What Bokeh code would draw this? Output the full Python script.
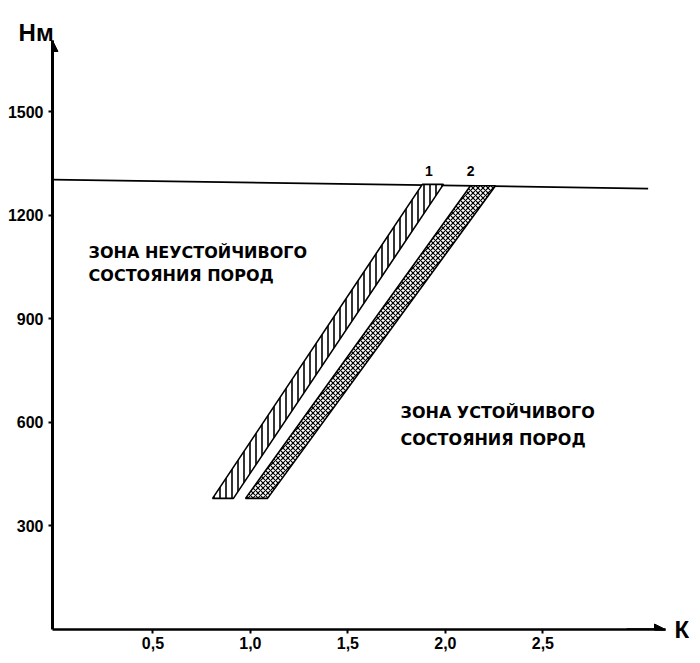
from bokeh.plotting import figure
from bokeh.models import FixedTicker, Arrow, NormalHead, Label, Range1d
from bokeh.embed import file_html
from bokeh.resources import INLINE

# ---- data ----
X_TICKS = [0.5, 1.0, 1.5, 2.0, 2.5]
X_TICK_LABELS = ["0,5", "1,0", "1,5", "2,0", "2,5"]
Y_TICKS = [300, 600, 900, 1200, 1500]

# limit depth line (horizontal, slightly falling)
LINE_X = [-0.015, 3.04]
LINE_Y = [1304, 1278]

# band 1 (hatched)  : bottom-left, bottom-right, top-right, top-left
BAND1_X = [0.806, 0.913, 1.990, 1.882]
BAND1_Y = [380, 380, 1290, 1290]
# band 2 (cross-hatched)
BAND2_X = [0.975, 1.088, 2.257, 2.129]
BAND2_Y = [380, 380, 1286, 1286]

BAND_NAMES = ["1", "2"]
BAND_NAME_X = [1.915, 2.129]
BAND_NAME_Y = [1328, 1328]

ZONE1 = ["ЗОНА НЕУСТОЙЧИВОГО", "СОСТОЯНИЯ ПОРОД"]
ZONE1_X = 0.170
ZONE1_Y = [1093, 1026]
ZONE2 = ["ЗОНА УСТОЙЧИВОГО", "СОСТОЯНИЯ ПОРОД"]
ZONE2_X = 1.77
ZONE2_Y = [628, 550]

X_START, X_END = -0.015, 3.129
Y_START, Y_END = 0, 1707

NARROW = "'Liberation Sans Narrow', 'Liberation Sans', sans-serif"
WIDE = "'DejaVu Sans', sans-serif"

p = figure(width=692, height=655, output_backend="svg", toolbar_location=None,
           x_range=Range1d(X_START, X_END), y_range=Range1d(Y_START, Y_END),
           min_border_left=52, min_border_right=27, min_border_top=40,
           min_border_bottom=26)
p.outline_line_color = None
p.grid.visible = False
p.background_fill_color = "white"
p.border_fill_color = "white"

# axes
xa = p.xaxis[0]
xa.ticker = FixedTicker(ticks=X_TICKS)
xa.major_label_overrides = {t: l for t, l in zip(X_TICKS, X_TICK_LABELS)}
xa.axis_line_width = 2.5
xa.axis_line_color = "black"
xa.major_tick_in = 0
xa.major_tick_out = 4
xa.major_tick_line_width = 2
xa.minor_tick_out = 0
xa.minor_tick_in = 0
xa.major_label_standoff = 3
xa.axis_label_standoff = 0
xa.major_label_text_font = NARROW
xa.major_label_text_font_style = "bold"
xa.major_label_text_font_size = "16px"
xa.major_label_text_color = "black"

ya = p.yaxis[0]
ya.ticker = FixedTicker(ticks=Y_TICKS)
ya.axis_line_width = 3
ya.axis_line_color = "black"
ya.major_tick_in = 0
ya.major_tick_out = 4
ya.major_tick_line_width = 2
ya.minor_tick_out = 0
ya.minor_tick_in = 0
ya.major_label_standoff = 5
ya.axis_label_standoff = 0
ya.major_label_text_font = NARROW
ya.major_label_text_font_style = "bold"
ya.major_label_text_font_size = "16px"
ya.major_label_text_color = "black"

# arrows at axis ends
p.add_layout(Arrow(end=NormalHead(size=11, fill_color="black", line_color="black"),
                   x_start=X_START, y_start=Y_END - 60, x_end=X_START, y_end=Y_END,
                   line_width=3, line_color="black"))
p.add_layout(Arrow(end=NormalHead(size=11, fill_color="black", line_color="black"),
                   x_start=X_END - 0.2, y_start=0, x_end=X_END, y_end=0,
                   line_width=2.5, line_color="black"))

# horizontal line
p.line(LINE_X, LINE_Y, line_color="black", line_width=1.8)

# bands
p.patch(BAND1_X, BAND1_Y, fill_color="white", line_color="black", line_width=1.6,
        hatch_pattern="|", hatch_color="black", hatch_scale=6, hatch_weight=1.6)
p.patch(BAND2_X, BAND2_Y, fill_color="white", line_color="black", line_width=1.6,
        hatch_pattern="x", hatch_color="black", hatch_scale=5, hatch_weight=1.2)

# band names
for name, bx, by in zip(BAND_NAMES, BAND_NAME_X, BAND_NAME_Y):
    p.add_layout(Label(x=bx, y=by, text=name, text_font=NARROW, text_font_style="bold",
                       text_font_size="14px", text_align="center", text_baseline="middle",
                       text_color="black"))

# zone texts
for txt, ty in zip(ZONE1, ZONE1_Y):
    p.add_layout(Label(x=ZONE1_X, y=ty, text=txt, text_font=WIDE, text_font_style="bold",
                       text_font_size="16px", text_align="left", text_baseline="middle",
                       text_color="black"))
for txt, ty in zip(ZONE2, ZONE2_Y):
    p.add_layout(Label(x=ZONE2_X, y=ty, text=txt, text_font=WIDE, text_font_style="bold",
                       text_font_size="16px", text_align="left", text_baseline="middle",
                       text_color="black"))

# axis names (placed in side panels so they are not clipped by the frame)
p.add_layout(Label(x=-0.189, y=Y_END + 23, text="Нм", text_font=NARROW, text_font_style="bold",
                   text_font_size="24px", text_align="left", text_baseline="alphabetic",
                   text_color="black"), "above")
p.add_layout(Label(x=3.175, y=0, text="К", text_font=NARROW, text_font_style="bold",
                   text_font_size="24px", text_align="left", text_baseline="middle",
                   text_color="black"), "right")

open("out.html", "w").write(file_html(p, INLINE))
